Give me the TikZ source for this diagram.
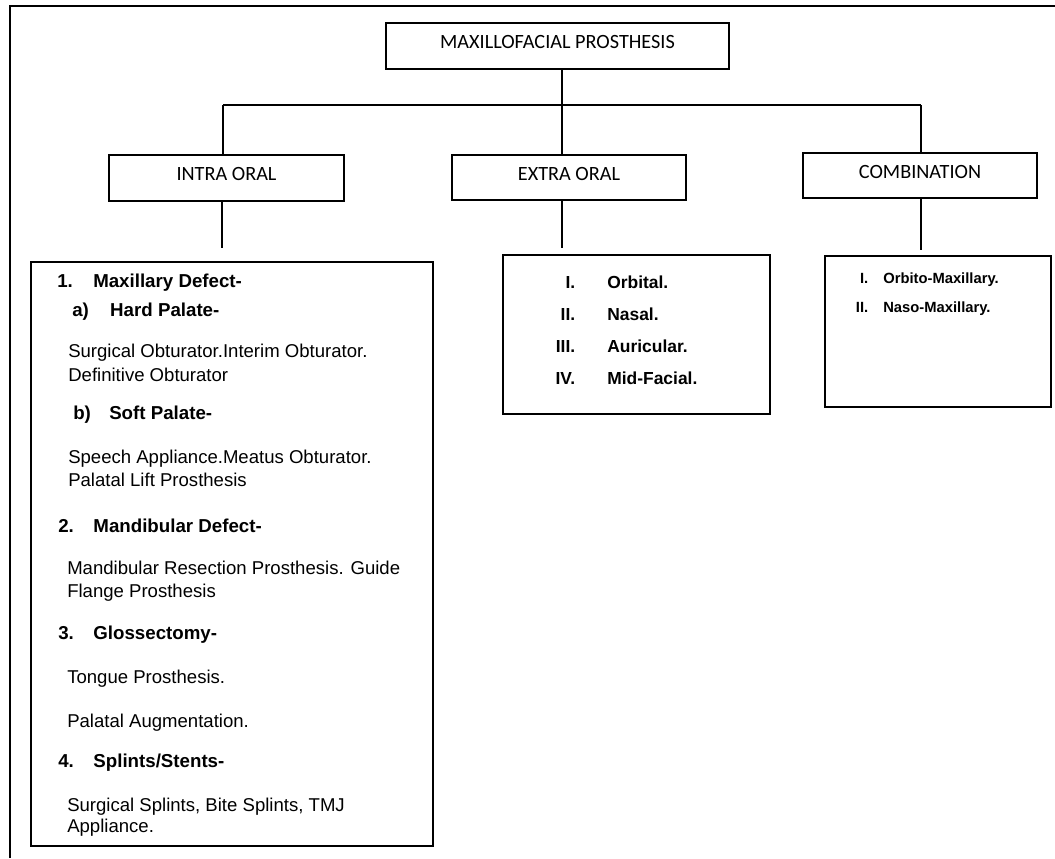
\documentclass[tikz,border=0pt]{standalone}
\usepackage{fontspec}
\setmainfont{Liberation Sans}
\newfontfamily\titlefont{Carlito}
\usetikzlibrary{positioning}
\tikzstyle{titlebox} = [rectangle, draw=black, line width=0.9pt, font=\titlefont\fontsize{14.4}{17}\selectfont, text height=9.3pt, text depth=5.6pt, text centered]
\tikzstyle{listbox} = [rectangle, draw=black, line width=0.9pt]
\tikzstyle{link} = [line width=0.9pt]
\tikzstyle{frame} = [line width=1.3pt]
\tikzstyle{heading} = [anchor=base west, inner sep=0pt, font=\bfseries\fontsize{13.3}{16}\selectfont]
\tikzstyle{entry} = [anchor=base west, inner sep=0pt, font=\fontsize{13.2}{16}\selectfont]
\tikzstyle{romanrow} = [anchor=base west, inner sep=0pt, font=\bfseries\fontsize{12.4}{15}\selectfont]
\tikzstyle{smallrow} = [anchor=base west, inner sep=0pt, font=\bfseries\fontsize{10.5}{13}\selectfont]

\begin{document}
\begin{tikzpicture}[x=0.025cm, y=-0.025cm]
    \useasboundingbox (0,0) rectangle (1055,858);
    \draw [frame] (10,858) -- (10,6) -- (1055,6);

    % top level
    \node (top) [titlebox, minimum width=8.575cm, minimum height=1.15cm] at (557.5,46) {MAXILLOFACIAL PROSTHESIS};
    \node (intra) [titlebox, minimum width=5.875cm, minimum height=1.15cm] at (226.5,178) {INTRA ORAL};
    \node (extra) [titlebox, minimum width=5.85cm, minimum height=1.125cm] at (569,177.5) {EXTRA ORAL};
    \node (combo) [titlebox, minimum width=5.85cm, minimum height=1.125cm] at (920,175.5) {COMBINATION};

    % list boxes
    \node (intralist) [listbox, minimum width=10.05cm, minimum height=14.6cm] at (232,554) {};
    \node (extralist) [listbox, minimum width=6.675cm, minimum height=3.975cm] at (636.5,334.5) {};
    \node (combolist) [listbox, minimum width=5.65cm, minimum height=3.775cm] at (938,331.5) {};

    \coordinate (busW) at (223,105);
    \coordinate (busC) at (562,105);
    \coordinate (busE) at (921,105);
    \coordinate (intraEnd) at (222,248);
    \coordinate (extraEnd) at (562,248);
    \coordinate (comboEnd) at (921,250);

    \draw [link] (top.south -| busC) -- (busC);
    \draw [link] (busW) -- (busE);
    \draw [link] (busW) -- (intra.north -| busW);
    \draw [link] (busC) -- (extra.north -| busC);
    \draw [link] (busE) -- (combo.north -| busE);
    \draw [link] (intra.south -| intraEnd) -- (intraEnd);
    \draw [link] (extra.south -| extraEnd) -- (extraEnd);
    \draw [link] (combo.south -| comboEnd) -- (comboEnd);

    % intra oral list
    \node (maxdef) [heading] at (57,287) {\makebox[25.6pt][l]{1.}Maxillary Defect-};
    \node (hard) [heading] at (72,316) {\makebox[27pt][l]{a)}Hard Palate-};
    \node (hard1) [entry] at (68,357) {Surgical Obturator.Interim Obturator.};
    \node (hard2) [entry] at (68,381) {Definitive Obturator};
    \node (soft) [heading] at (73,419) {\makebox[25.6pt][l]{b)}Soft Palate-};
    \node (soft1) [entry] at (68,463) {Speech Appliance.Meatus Obturator.};
    \node (soft2) [entry] at (68,486) {Palatal Lift Prosthesis};
    \node (mandef) [heading] at (58,532) {\makebox[25pt][l]{2.}Mandibular Defect-};
    \node (man1) [entry] at (67,574) {Mandibular Resection Prosthesis. Guide};
    \node (man2) [entry] at (67,597) {Flange Prosthesis};
    \node (gloss) [heading] at (58,639) {\makebox[25pt][l]{3.}Glossectomy-};
    \node (gloss1) [entry] at (67,683) {Tongue Prosthesis.};
    \node (gloss2) [entry] at (67,727) {Palatal Augmentation.};
    \node (splint) [heading] at (58,767) {\makebox[25pt][l]{4.}Splints/Stents-};
    \node (splint1) [entry] at (67,811) {Surgical Splints, Bite Splints, TMJ};
    \node (splint2) [entry] at (67,832) {Appliance.};

    % extra oral list
    \foreach \num/\name [count=\i] in {I./Orbital., II./Nasal., III./Auricular., IV./Mid-Facial.}
        \node (extra\i) [romanrow] at (545,256+32*\i) {\makebox[21.3pt][r]{\num}\hspace{22.8pt}\name};

    % combination list
    \foreach \num/\name [count=\i] in {I./Orbito-Maxillary., II./Naso-Maxillary.}
        \node (combo\i) [smallrow] at (848,254+29*\i) {\makebox[14.2pt][r]{\num}\hspace{10.7pt}\name};
\end{tikzpicture}
\end{document}
